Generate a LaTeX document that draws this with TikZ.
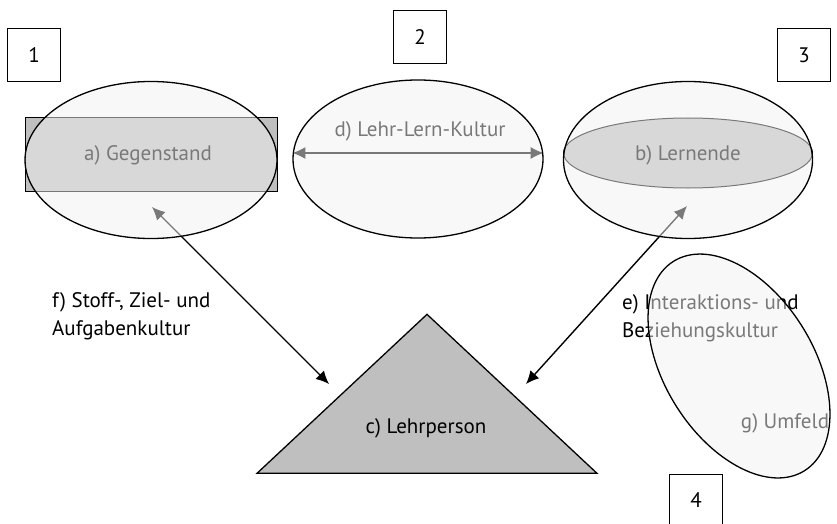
\documentclass[tikz,border=0pt]{standalone}
\usepackage{fontspec}
\setmainfont{PT Sans}
\usetikzlibrary{arrows.meta, positioning, shapes.geometric}
\pgfdeclarelayer{front}
\pgfsetlayers{main,front}

\begin{document}
\begin{tikzpicture}[
        x=1pt, y=-1pt,
        font=\fontsize{21}{28}\selectfont,
        numbox/.style={draw, line width=1pt, minimum width=53pt,
            minimum height=53pt, inner sep=0pt},
        field/.style={ellipse, draw, line width=1.3pt, fill=black!5,
            fill opacity=0.5, inner sep=0pt},
        core/.style={draw, line width=1pt, fill=black!25, inner sep=0pt},
        lbl/.style={align=left, anchor=north west, inner sep=0pt},
        arr/.style={{Latex[length=13pt,width=12pt]}-{Latex[length=13pt,width=12pt]},
            line width=1.4pt},
    ]
        \useasboundingbox (0,0) rectangle (837,524);

        % numbered boxes
        \node[numbox] (n1) at (34,55.5) {1};
        \node[numbox] (n2) at (420,37.5) {2};
        \node[numbox] (n3) at (804,55.5) {3};
        \node[numbox] (n4) at (696,500.5) {4};

        % inner shapes (seen through the fields)
        \node[core, minimum width=252pt, minimum height=73pt] (stoff) at (151,154.5) {};
        \node[core, ellipse, minimum width=249pt, minimum height=70pt] (kern) at (688,153) {};
        \node (gegen) at (148,155) {a) Gegenstand};
        \node (lern) at (688,155) {b) Lernende};
        \node (lehrlern) at (420,131) {d) Lehr-Lern-Kultur};
        \node (umfeld) at (785,423) {g) Umfeld};

        % teacher
        \node[core, isosceles triangle, isosceles triangle apex angle=94,
            isosceles triangle stretches, shape border rotate=90,
            minimum width=340pt, minimum height=159pt, line width=1.3pt,
            anchor=south] (lehrer) at (427,474) {};
        \node (lp) at (426,428) {c) Lehrperson};

        % side labels
        \node[lbl] (fkultur) at (52,292) {f) Stoff-, Ziel- und\\Aufgabenkultur};
        \node[lbl] (ekultur) at (622,294) {e) Interaktions- und\\Beziehungskultur};

        % fields
        \begin{pgfonlayer}{front}
            \node[field, minimum width=252pt, minimum height=157pt] (ga) at (151,160) {};
            \node[field, minimum width=250pt, minimum height=158pt] (lk) at (418,159) {};
            \node[field, minimum width=249pt, minimum height=157pt] (lb) at (688,160) {};
            \coordinate (uf) at (739,366);
            \path[draw, line width=1.3pt, fill=black!5, fill opacity=0.5, rotate around={-58:(uf)}]
                (uf) ellipse [x radius=123.5pt, y radius=74.5pt];
        \end{pgfonlayer}

        % relations
        \coordinate (fa) at (152,207);
        \coordinate (fc) at (329,384);
        \coordinate (eb) at (687,206);
        \coordinate (ec) at (526,384);
        \draw[arr] (fa) -- (fc);
        \draw[arr] (eb) -- (ec);
        \draw[arr] ([yshift=6pt]lk.west) -- ([yshift=6pt]lk.east);
    \end{tikzpicture}
\end{document}
